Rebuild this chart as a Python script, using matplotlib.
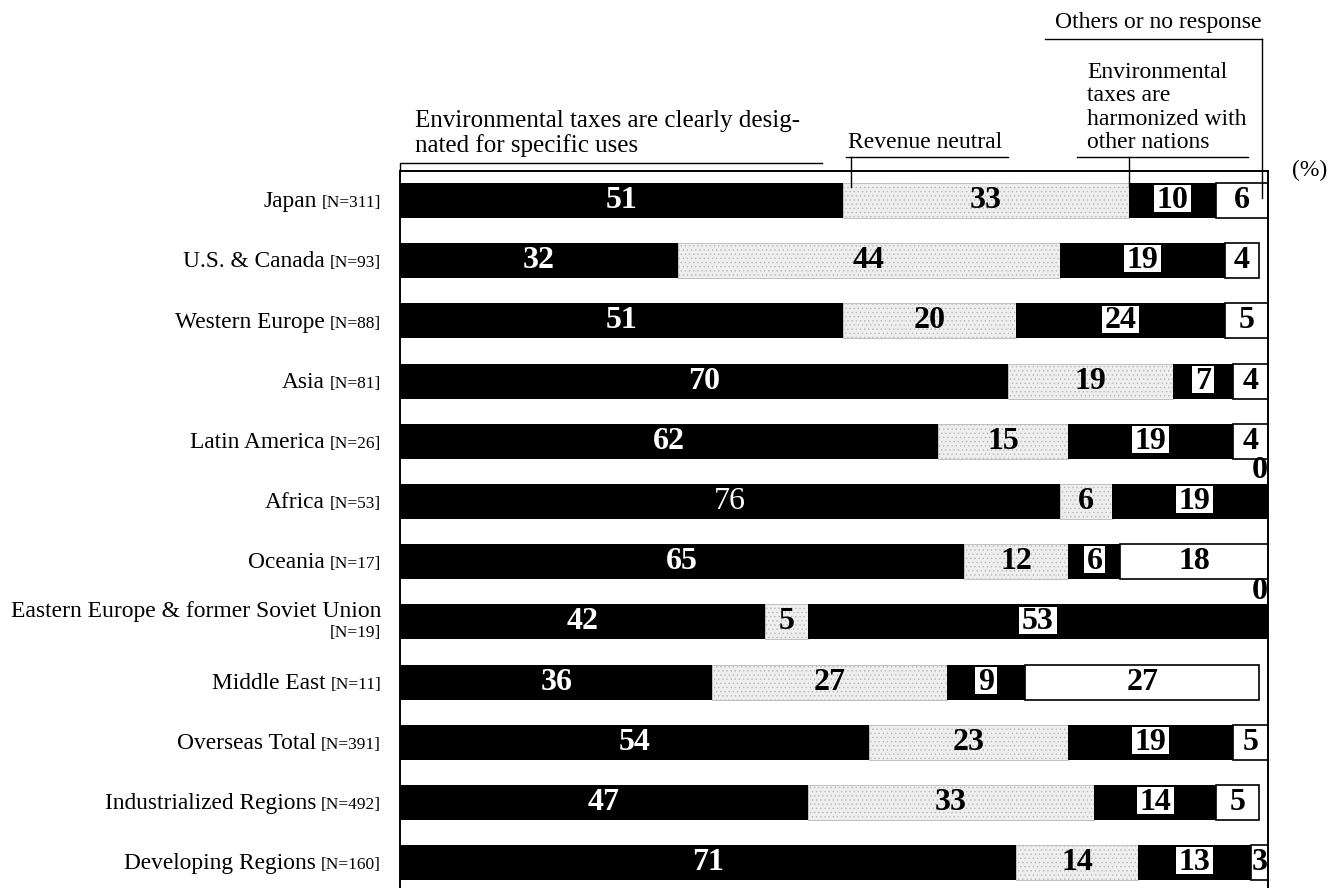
import numpy as np
import matplotlib
matplotlib.use("Agg")
import matplotlib.pyplot as plt
from matplotlib import transforms
from matplotlib.patches import Rectangle

# Survey shares (%) by region
regions = ["Japan", "U.S. & Canada", "Western Europe", "Asia", "Latin America",
           "Africa", "Oceania", "Eastern Europe & former Soviet Union",
           "Middle East", "Overseas Total", "Industrialized Regions",
           "Developing Regions"]
sample_sizes = ["[N=311]", "[N=93]", "[N=88]", "[N=81]", "[N=26]", "[N=53]",
                "[N=17]", "[N=19]", "[N=11]", "[N=391]", "[N=492]", "[N=160]"]
designated = [51, 32, 51, 70, 62, 76, 65, 42, 36, 54, 47, 71]
revenue_neutral = [33, 44, 20, 19, 15, 6, 12, 5, 27, 23, 33, 14]
harmonized = [10, 19, 24, 7, 19, 19, 6, 53, 9, 19, 14, 13]
others = [6, 4, 5, 4, 4, 0, 18, 0, 27, 5, 5, 3]

W, H = 1343, 888
serif = "Liberation Serif"
plt.rcParams["hatch.linewidth"] = 0.5

fig = plt.figure(figsize=(W / 100, H / 100), dpi=100)
ax = fig.add_axes([400 / W, 1 - 892.8 / H, 868 / W, (892.8 - 171) / H])
ax.set_xlim(0, 100)
ax.set_ylim(11.5, -0.49)
ax.set_xticks([])
ax.set_yticks([])
for s in ["left", "top", "right"]:
    ax.spines[s].set_linewidth(1.4)
ax.spines["bottom"].set_visible(False)


# pixel -> data helpers for the header brackets
def px(xp):
    return (xp - 400) / 8.68


def py(yp):
    return (yp - 200.5) / 60.2


n = len(regions)
y = np.arange(n)
h = 0.58
left2 = np.array(designated)
left3 = left2 + np.array(revenue_neutral)
left4 = left3 + np.array(harmonized)

ax.barh(y, designated, height=h, color="black")
ax.barh(y, revenue_neutral, left=left2, height=h, color="#eeeeee",
        edgecolor="#b8b8b8", hatch="....", linewidth=0.6)
ax.barh(y, harmonized, left=left3, height=h, color="black")
ax.barh(y, others, left=left4, height=h, color="white",
        edgecolor="black", linewidth=1.2)

renderer = fig.canvas.get_renderer()
num_kw = dict(family=serif, fontsize=23, fontweight="bold",
              ha="center", va="center")

for i in range(n):
    w1 = "normal" if regions[i] == "Africa" else "bold"
    ax.text(designated[i] / 2, i, str(designated[i]), color="white",
            **{**num_kw, "fontweight": w1})
    ax.text(left2[i] + revenue_neutral[i] / 2, i, str(revenue_neutral[i]),
            color="black", **num_kw)
    t = ax.text(left3[i] + harmonized[i] / 2, i, str(harmonized[i]),
                color="black", zorder=5, **num_kw)
    bb = t.get_window_extent(renderer).transformed(ax.transData.inverted())
    ax.add_patch(Rectangle((bb.x0 - 0.3, i - 0.255), bb.width + 0.6, 0.45,
                           facecolor="white", edgecolor="none", zorder=4))
    if others[i] > 0:
        xc = (left4[i] + min(left4[i] + others[i], 100)) / 2
        ax.text(xc, i, str(others[i]), color="black", **num_kw)
    else:
        ax.text(99.1, i - h / 2 + 0.02, "0", color="black", clip_on=False,
                **{**num_kw, "va": "bottom"})

# category labels
trans = transforms.blended_transform_factory(ax.transAxes, ax.transData)
x_lab = -19 / 868
for i, (name, nlab) in enumerate(zip(regions, sample_sizes)):
    if len(name) > 30:
        ax.text(x_lab, i - 0.08, name, ha="right", va="baseline",
                family=serif, fontsize=17, transform=trans)
        ax.text(x_lab, i + 0.25, nlab, ha="right", va="baseline",
                family=serif, fontsize=12.5, transform=trans)
    else:
        t = ax.text(x_lab, i + 0.11, nlab, ha="right", va="baseline",
                    family=serif, fontsize=12.5, transform=trans)
        wpx = t.get_window_extent(renderer).width
        off = transforms.offset_copy(trans, fig=fig, x=-wpx - 5, y=0,
                                     units="dots")
        ax.text(x_lab, i + 0.11, name, ha="right", va="baseline",
                family=serif, fontsize=16.8, transform=off)

# header labels and brackets (va="baseline" anchors the last line)
hdr = dict(family=serif, fontsize=17, va="baseline", ha="left")
fig.text(415 / W, 1 - 152 / H,
         "Environmental taxes are clearly desig-\nnated for specific uses",
         linespacing=1.1, **{**hdr, "fontsize": 18})
fig.text(848 / W, 1 - 148 / H, "Revenue neutral", **hdr)
fig.text(1087 / W, 1 - 148 / H,
         "Environmental\ntaxes are\nharmonized with\nother nations",
         linespacing=1.15, **hdr)
fig.text(1055 / W, 1 - 28 / H, "Others or no response", **hdr)
fig.text(1292 / W, 1 - 176 / H, "(%)", family=serif, fontsize=17,
         va="baseline", ha="left")

line_kw = dict(color="black", linewidth=1.0, clip_on=False)
ax.plot([0, 0, px(822)], [py(171), py(163), py(163)], **line_kw)
ax.plot([px(846), px(1008)], [py(157), py(157)], **line_kw)
ax.plot([designated[0] + 1, designated[0] + 1], [py(157), py(187)], **line_kw)
ax.plot([px(1077), px(1248)], [py(157), py(157)], **line_kw)
ax.plot([left3[0], left3[0]], [py(157), py(187)], **line_kw)
ax.plot([px(1045), px(1262)], [py(39), py(39)], **line_kw)
ax.plot([px(1262), px(1262)], [py(39), py(198)], **line_kw)

fig.savefig("out.png", dpi=100)
